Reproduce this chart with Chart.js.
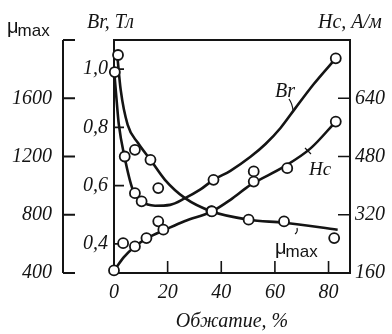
<!DOCTYPE html>
<html>
<head>
<meta charset="utf-8">
<script src="https://cdn.jsdelivr.net/npm/chart.js@4.4.1/dist/chart.umd.min.js"></script>
<style>
  html, body { margin: 0; padding: 0; background: #fff; }
  #wrap { width: 392px; height: 334px; }
</style>
</head>
<body>
<div id="wrap"><canvas id="myChart" width="392" height="334"></canvas></div>
<script>
// Точки измерений (обжатие, %)
const brPointX = [0.3, 4.0, 7.8, 10.3, 37.1, 82.7]
const brPointY = [0.99, 0.70, 0.574, 0.546, 0.62, 1.037]
const muPointX = [1.5, 7.8, 13.6, 16.5, 36.5, 50.2, 63.4, 82.1]
const muPointY = [1897, 1246, 1177, 983, 823, 766, 754, 640]
const hcPointX = [0, 3.4, 7.8, 12.1, 16.5, 18.4, 36.3, 52.1, 52.1, 64.6, 82.7]
const hcPointY = [167, 242, 233, 256, 302, 279, 330, 439, 411, 448, 576]

// Сглаженные кривые
const brCurveX = [0, 1.0, 1.8, 3.9, 7.0, 10.3, 15.3, 20.9, 26.5, 32.1, 37.1, 43.4, 50.9, 56.5, 62.1, 67.7, 74.5, 82.7]
const brCurveY = [1.0, 0.89, 0.81, 0.70, 0.586, 0.546, 0.531, 0.534, 0.557, 0.586, 0.62, 0.651, 0.699, 0.743, 0.798, 0.867, 0.949, 1.037]
const muCurveX = [1.2, 2.5, 5.1, 8.9, 13.6, 19.0, 26.5, 36.5, 50.2, 63.4, 83.4]
const muCurveY = [1900, 1657, 1417, 1294, 1177, 1040, 914, 822, 766, 745, 697]
const hcCurveX = [0, 3.6, 7.8, 12.4, 19.1, 26.5, 36.5, 43.4, 50.9, 63.4, 73.4, 82.7]
const hcCurveY = [166, 203, 233, 256, 279, 303, 329, 361, 402, 452, 503, 576]

// Деления осей
const xTicks = [0, 20, 40, 60, 80]
const muTicks = [400, 800, 1200, 1600, 2000]
const brTicks = [0.4, 0.6, 0.8, 1.0]
const hcTicks = [160, 320, 480, 640]

const serif = '"Liberation Serif", "Times New Roman", serif'
const sans = '"Liberation Sans", Arial, sans-serif'
const ink = '#141414'

function pairs(xs, ys) {
  return xs.map((x, i) => ({ x: x, y: ys[i] }))
}

function useTicks(values) {
  return function (scale) { scale.ticks = values.map(v => ({ value: v })) }
}

const tickFont = { family: serif, size: 20, style: 'italic' }

// надпись μmax
function drawMu(ctx, x, y) {
  ctx.font = '20px ' + sans
  ctx.fillText('μ', x, y - 3)
  const w = ctx.measureText('μ').width
  ctx.font = '17px ' + sans
  ctx.fillText('max', x + w - 1, y)
}

// рамка, засечки и внешняя ось μmax
const frame = {
  id: 'frame',
  beforeDatasetsDraw(chart) {
    const { ctx, chartArea: a, scales } = chart
    ctx.save()
    ctx.strokeStyle = ink
    ctx.lineWidth = 2
    ctx.strokeRect(a.left, a.top, a.right - a.left, a.bottom - a.top)

    ctx.lineWidth = 1.6
    ctx.beginPath()
    xTicks.slice(1).forEach(v => {
      const px = scales.x.getPixelForValue(v)
      ctx.moveTo(px, a.bottom)
      ctx.lineTo(px, a.bottom - 12)
    })
    brTicks.forEach(v => {
      const py = scales.yBr.getPixelForValue(v)
      ctx.moveTo(a.left, py)
      ctx.lineTo(a.left + 10, py)
    })
    hcTicks.slice(1).forEach(v => {
      const py = scales.yHc.getPixelForValue(v)
      ctx.moveTo(a.right, py)
      ctx.lineTo(a.right - 12, py)
    })
    ctx.stroke()

    const ax = scales.yMu.right
    ctx.lineWidth = 2
    ctx.beginPath()
    ctx.moveTo(ax, scales.yMu.getPixelForValue(2000))
    ctx.lineTo(ax, scales.yMu.getPixelForValue(400))
    muTicks.forEach(v => {
      const py = scales.yMu.getPixelForValue(v)
      ctx.moveTo(ax, py)
      ctx.lineTo(ax + 12, py)
    })
    ctx.stroke()
    ctx.restore()
  },
  afterDatasetsDraw(chart) {
    const { ctx } = chart
    ctx.save()
    ctx.fillStyle = ink
    ctx.strokeStyle = ink
    ctx.textBaseline = 'alphabetic'
    ctx.textAlign = 'left'

    // заголовки осей
    drawMu(ctx, 7, 36)
    ctx.font = 'italic 20px ' + serif
    ctx.fillText('Br, Тл', 87, 28)
    ctx.fillText('Hc, А/м', 318, 28)

    // подписи кривых
    ctx.fillText('Br', 275, 97)
    ctx.font = 'italic 19px ' + serif
    ctx.fillText('Hc', 309, 175)
    drawMu(ctx, 275, 257)

    // выноски
    ctx.lineWidth = 1.2
    ctx.beginPath()
    ctx.moveTo(289, 99)
    ctx.quadraticCurveTo(292, 103, 293, 110)
    ctx.moveTo(305, 148)
    ctx.lineTo(311, 154)
    ctx.moveTo(297, 228)
    ctx.quadraticCurveTo(298, 232, 295, 234)
    ctx.stroke()
    ctx.restore()
  }
}

const pointStyle = {
  showLine: false,
  pointRadius: 5,
  pointHoverRadius: 5,
  pointBackgroundColor: '#fff',
  pointBorderColor: ink,
  pointBorderWidth: 1.8,
  clip: false
}

const curveStyle = {
  showLine: true,
  pointRadius: 0,
  pointHoverRadius: 0,
  borderColor: ink,
  borderWidth: 2.6,
  cubicInterpolationMode: 'monotone',
  fill: false,
  clip: false
}

new Chart(document.getElementById('myChart'), {
  type: 'scatter',
  plugins: [frame],
  data: {
    datasets: [
      Object.assign({ label: 'Br', data: pairs(brPointX, brPointY), yAxisID: 'yBr' }, pointStyle),
      Object.assign({ label: 'μmax', data: pairs(muPointX, muPointY), yAxisID: 'yMu' }, pointStyle),
      Object.assign({ label: 'Hc', data: pairs(hcPointX, hcPointY), yAxisID: 'yHc' }, pointStyle),
      Object.assign({ label: 'Br кривая', data: pairs(brCurveX, brCurveY), yAxisID: 'yBr' }, curveStyle),
      Object.assign({ label: 'μmax кривая', data: pairs(muCurveX, muCurveY), yAxisID: 'yMu' }, curveStyle),
      Object.assign({ label: 'Hc кривая', data: pairs(hcCurveX, hcCurveY), yAxisID: 'yHc' }, curveStyle)
    ]
  },
  options: {
    responsive: false,
    animation: false,
    devicePixelRatio: 1,
    layout: { padding: { top: 40, left: 0, right: 0, bottom: 0 } },
    plugins: { legend: { display: false }, tooltip: { enabled: false } },
    scales: {
      x: {
        type: 'linear',
        position: 'bottom',
        min: 0,
        max: 88,
        afterBuildTicks: useTicks(xTicks),
        afterFit: s => { s.height = 61 },
        grid: { display: false, drawTicks: false },
        border: { display: false },
        ticks: { font: tickFont, color: ink, padding: 8, maxRotation: 0 },
        title: {
          display: true,
          text: 'Обжатие, %',
          font: tickFont,
          color: ink,
          padding: { top: 0, bottom: 0 }
        }
      },
      yMu: {
        type: 'linear',
        position: 'left',
        weight: 2,
        min: 400,
        max: 2000,
        afterBuildTicks: useTicks(muTicks),
        afterFit: s => { s.width = 63 },
        grid: { display: false, drawTicks: false },
        border: { display: false },
        ticks: {
          font: tickFont,
          color: ink,
          padding: 11,
          callback: v => v === 2000 ? '' : String(v)
        }
      },
      yBr: {
        type: 'linear',
        position: 'left',
        weight: 1,
        min: 0.3,
        max: 1.1,
        afterBuildTicks: useTicks(brTicks),
        afterFit: s => { s.width = 51 },
        grid: { display: false, drawTicks: false },
        border: { display: false },
        ticks: {
          font: tickFont,
          color: ink,
          padding: 6,
          callback: v => Number(v).toFixed(1).replace('.', ',')
        }
      },
      yHc: {
        type: 'linear',
        position: 'right',
        min: 160,
        max: 800,
        afterBuildTicks: useTicks(hcTicks),
        afterFit: s => { s.width = 42 },
        grid: { display: false, drawTicks: false },
        border: { display: false },
        ticks: { font: tickFont, color: ink, padding: 5 }
      }
    }
  }
})
</script>
</body>
</html>
